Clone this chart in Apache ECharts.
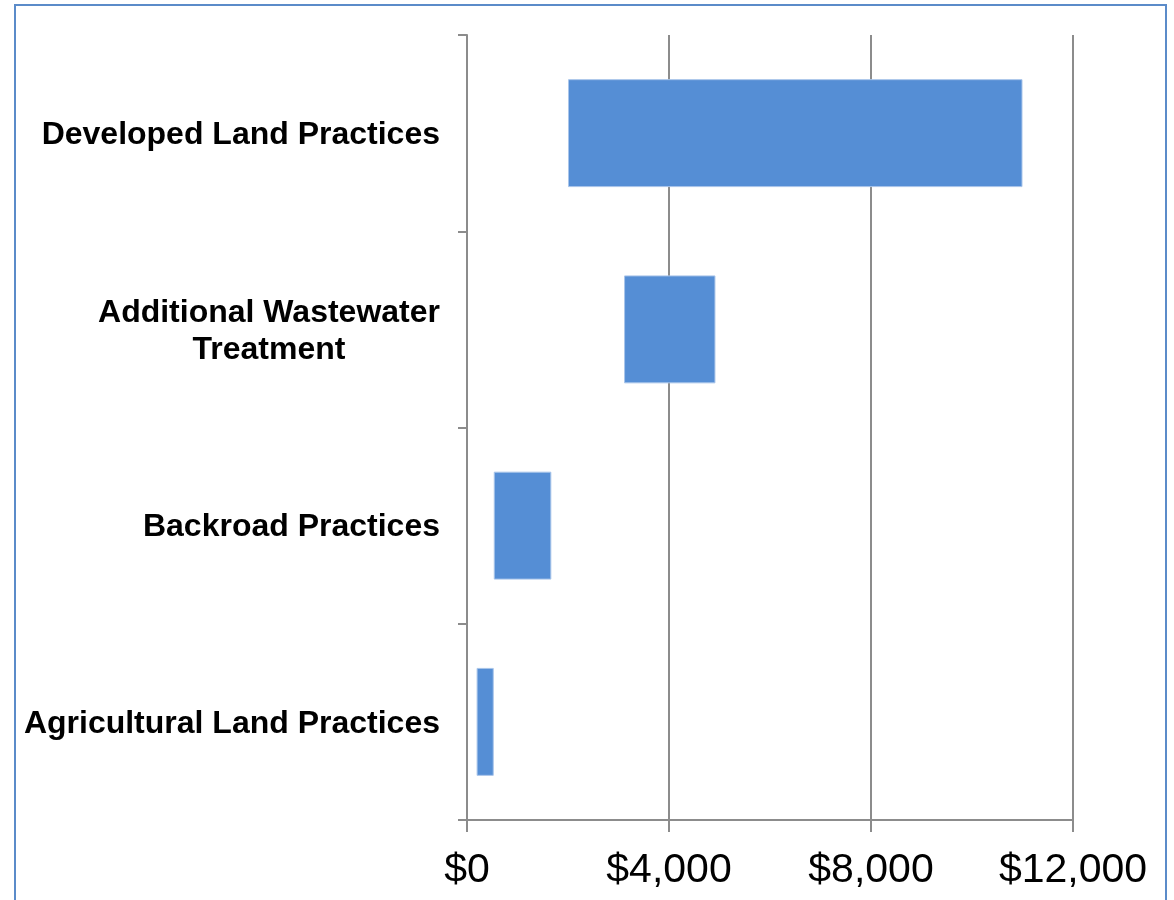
<!DOCTYPE html>
<html>
<head>
<meta charset="utf-8">
<script src="https://cdn.jsdelivr.net/npm/echarts@6/dist/echarts.min.js"></script>
<style>
  html, body { margin: 0; padding: 0; background: #fff; }
  #frame { position: absolute; left: 14px; top: 4px; width: 1153px; height: 920px; border: 2px solid #5B8BC9; box-sizing: border-box; }
  #chart { position: absolute; left: 0; top: 0; width: 1174px; height: 900px; }
</style>
</head>
<body>
<div id="frame"></div>
<div id="chart"></div>
<script>
// Data
const categories = ["Developed Land Practices", "Additional Wastewater\nTreatment", "Backroad Practices", "Agricultural Land Practices"];
const rangeStart = [2000, 3110, 530, 190];
const rangeEnd   = [11000, 4920, 1670, 530];
const xTicks = [0, 4000, 8000, 12000];

const FONT = "Arial, 'Liberation Sans', sans-serif";
const catFontSize = 32;

// measure text so the lines of a wrapped label can be centred within its block
const cv = document.createElement('canvas').getContext('2d');
cv.font = 'bold ' + catFontSize + 'px ' + FONT;
function lineWidth(s) { return Math.ceil(cv.measureText(s).width); }

const chart = echarts.init(document.getElementById('chart'));
const gray = '#8C8C8C';

chart.setOption({
  animation: false,
  backgroundColor: 'transparent',
  grid: { left: 467, right: 101, top: 35, bottom: 80, containLabel: false },
  xAxis: {
    type: 'value',
    min: xTicks[0],
    max: xTicks[xTicks.length - 1],
    interval: xTicks[1] - xTicks[0],
    axisLine: { show: true, lineStyle: { color: gray, width: 2 } },
    axisTick: { show: true, length: 12, lineStyle: { color: gray, width: 2 } },
    splitLine: { show: true, lineStyle: { color: gray, width: 2 } },
    axisLabel: {
      margin: 30,
      fontFamily: FONT,
      fontSize: 41,
      color: '#000',
      formatter: v => '$' + v.toLocaleString('en-US')
    }
  },
  yAxis: {
    type: 'category',
    data: categories,
    inverse: true,
    axisLine: { show: true, lineStyle: { color: gray, width: 2 } },
    axisTick: { show: true, length: 9, lineStyle: { color: gray, width: 2 } },
    splitLine: { show: false },
    axisLabel: {
      margin: 27,
      fontFamily: FONT,
      fontSize: catFontSize,
      fontWeight: 'bold',
      color: '#000',
      lineHeight: 37,
      padding: [4, 0, 0, 0],
      formatter: function (v) {
        const lines = v.split('\n');
        if (lines.length === 1) return v;
        return lines.map(l => '{c|' + l + '}').join('\n');
      },
      rich: {
        c: {
          fontFamily: FONT,
          fontSize: catFontSize,
          fontWeight: 'bold',
          color: '#000',
          lineHeight: 37,
          align: 'center',
          width: lineWidth('Additional Wastewater')
        }
      }
    }
  },
  series: [
    {
      name: 'base',
      type: 'bar',
      stack: 'range',
      silent: true,
      itemStyle: { color: 'transparent' },
      barWidth: '55%',
      data: rangeStart
    },
    {
      name: 'cost',
      type: 'bar',
      stack: 'range',
      barWidth: '55%',
      itemStyle: { color: '#558ED5', borderColor: '#A9C5EA', borderWidth: 1 },
      data: rangeEnd.map((e, i) => e - rangeStart[i])
    }
  ]
});
</script>
</body>
</html>
